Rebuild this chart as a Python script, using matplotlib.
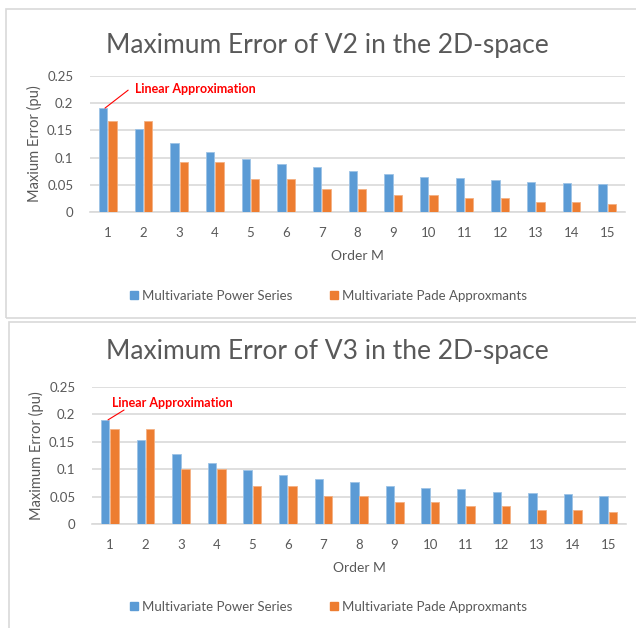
import matplotlib
matplotlib.use("Agg")
import matplotlib.pyplot as plt
from matplotlib.patches import Rectangle
from matplotlib.lines import Line2D

plt.rcParams['font.family'] = ['Lato', 'DejaVu Sans']

orders = list(range(1, 16))

# V2 chart
v2_power = [0.191, 0.153, 0.127, 0.111, 0.098, 0.089, 0.083, 0.076, 0.069,
            0.065, 0.062, 0.058, 0.056, 0.054, 0.052]
v2_pade = [0.167, 0.167, 0.091, 0.091, 0.061, 0.061, 0.043, 0.043, 0.032,
           0.032, 0.025, 0.025, 0.018, 0.018, 0.014]

# V3 chart
v3_power = [0.190, 0.153, 0.127, 0.111, 0.099, 0.089, 0.083, 0.076, 0.069,
            0.065, 0.063, 0.058, 0.056, 0.054, 0.052]
v3_pade = [0.173, 0.173, 0.100, 0.100, 0.070, 0.070, 0.052, 0.052, 0.041,
           0.041, 0.032, 0.032, 0.025, 0.025, 0.021]

yticks = [0, 0.05, 0.1, 0.15, 0.2, 0.25]
ytick_labels = ['0', '0.05', '0.1', '0.15', '0.2', '0.25']

BLUE = '#5B9BD5'
ORANGE = '#ED7D31'
GRID = '#D9D9D9'
TEXT = '#595959'

W, H = 636, 628
fig = plt.figure(figsize=(W / 100, H / 100), dpi=100)


def px_rect(left, top, right, bottom):
    return [left / W, 1 - bottom / H, (right - left) / W, (bottom - top) / H]


def draw_chart(ax, power, pade, title, ylabel, title_y, legend_y,
               line_start, line_end, note_xy):
    w = 0.24
    xs = [o - 0.13 for o in orders]
    xs2 = [o + 0.13 for o in orders]
    ax.bar(xs, power, width=w, color=BLUE, edgecolor='#9DC3E6', linewidth=0.6, zorder=3)
    ax.bar(xs2, pade, width=w, color=ORANGE, edgecolor='#F4B183', linewidth=0.6, zorder=3)
    ax.set_xlim(0.5, 15.5)
    ax.set_ylim(0, 0.25)
    ax.set_yticks(yticks)
    ax.set_yticklabels(ytick_labels)
    ax.set_xticks(orders)
    ax.grid(axis='y', color=GRID, linewidth=1.2, zorder=0)
    for s in ['top', 'right', 'left']:
        ax.spines[s].set_visible(False)
    ax.spines['bottom'].set_color(GRID)
    ax.spines['bottom'].set_linewidth(1.2)
    ax.tick_params(length=0, colors=TEXT, labelsize=9.5)
    ax.tick_params(axis='x', pad=11)
    ax.tick_params(axis='y', pad=12)
    ax.set_xlabel('Order M', color=TEXT, fontsize=10, labelpad=8)
    ax.set_ylabel(ylabel, color=TEXT, fontsize=10.5, labelpad=4)
    fig.text(327 / W, 1 - title_y / H, title, ha='center', va='center',
             fontsize=19, color=TEXT)
    # callout for the first bar
    ax.annotate('', xy=line_start, xytext=line_end,
                arrowprops=dict(arrowstyle='-', color='#FF0000', lw=0.8,
                                shrinkA=0, shrinkB=0))
    ax.text(note_xy[0], note_xy[1], 'Linear Approximation', color='#FF0000',
            fontsize=9, fontweight='bold', ha='left', va='center')
    handles = [Line2D([], [], marker='s', linestyle='', color=BLUE, markersize=6),
               Line2D([], [], marker='s', linestyle='', color=ORANGE, markersize=6)]
    fig.legend(handles, ['Multivariate Power Series', 'Multivariate Pade Approxmants'],
               loc='center', bbox_to_anchor=(328 / W, 1 - legend_y / H), ncol=2,
               frameon=False, fontsize=9.5, handletextpad=0.2, columnspacing=2.8,
               handlelength=0.8, labelcolor=TEXT)


# panel borders
fig.patches.append(Rectangle((6 / W, 1 - 318 / H), 640 / W, 309 / H,
                             transform=fig.transFigure, fill=False,
                             edgecolor=GRID, linewidth=1.2))
fig.patches.append(Rectangle((9 / W, 1 - 640 / H), 640 / W, 318 / H,
                             transform=fig.transFigure, fill=False,
                             edgecolor=GRID, linewidth=1.2))

ax1 = fig.add_axes(px_rect(90, 76, 625, 212))
draw_chart(ax1, v2_power, v2_pade, 'Maximum Error of V2 in the 2D-space',
           'Maxium Error (pu)', 45, 296,
           (0.92, 0.191), (1.57, 0.224), (1.76, 0.226))

ax2 = fig.add_axes(px_rect(92, 387, 626, 524))
draw_chart(ax2, v3_power, v3_pade, 'Maximum Error of V3 in the 2D-space',
           'Maximum Error (pu)', 352, 607,
           (0.95, 0.190), (1.40, 0.208), (1.06, 0.220))

fig.savefig('out.png', dpi=100)
